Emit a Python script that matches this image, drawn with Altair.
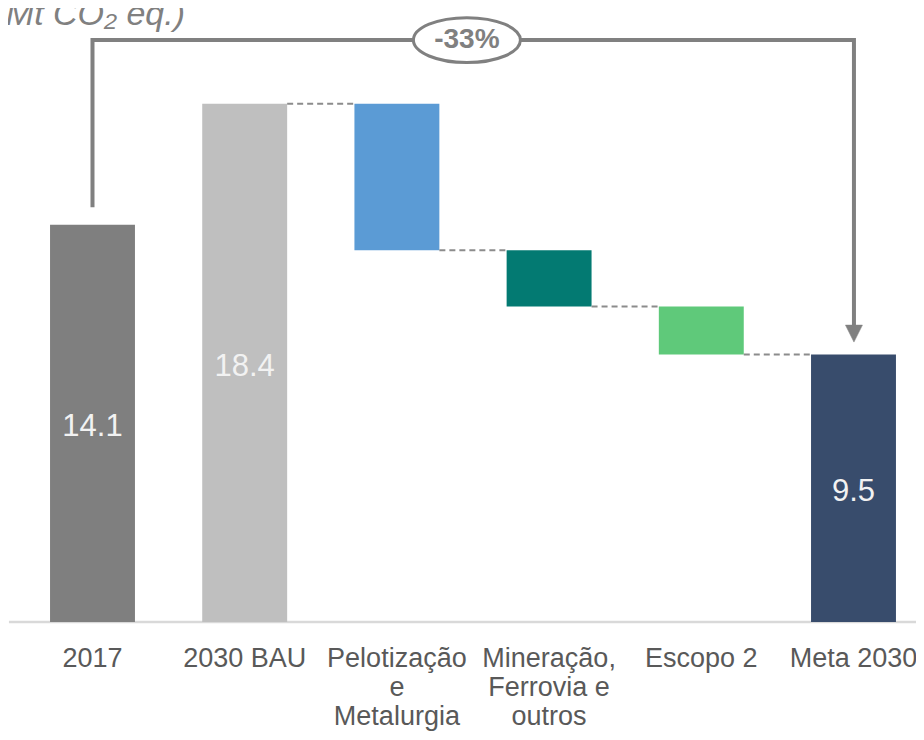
import altair as alt
import pandas as pd

# ---- data ----
categories = ["2017", "2030 BAU", "Pelotização e Metalurgia",
              "Mineração, Ferrovia e outros", "Escopo 2", "Meta 2030"]
axis_labels = ["2017", "2030 BAU", "Pelotização\ne\nMetalurgia",
               "Mineração,\nFerrovia e\noutros", "Escopo 2", "Meta 2030"]
bar_start = [0.0, 0.0, 13.2, 11.2, 9.5, 0.0]
bar_end = [14.1, 18.4, 18.4, 13.2, 11.2, 9.5]
bar_colors = ["#7F7F7F", "#BFBFBF", "#5B9BD5", "#037A72", "#5FC97A", "#384C6C"]
value_labels = ["14.1", "18.4", "", "", "", "9.5"]
is_step = [False, False, True, True, True, False]
change_label = "-33%"
unit_label = "(Mt CO₂ eq.)"

FONT = "Liberation Sans"
GRAY = "#808080"
HALF = 0.279  # half bar width in category units

PLOT_W = 900
STEP_PX = 152.2
x_lo = -0.5026
xscale = alt.Scale(domain=[x_lo, x_lo + PLOT_W / STEP_PX], nice=False, zero=False)
yscale = alt.Scale(domain=[0, 21.8], nice=False, zero=False)

bars = pd.DataFrame({
    "cat": categories,
    "idx": list(range(len(categories))),
    "y0": bar_start,
    "y1": bar_end,
    "color": bar_colors,
    "label": value_labels,
    "axis_label": axis_labels,
})
bars["x0"] = bars["idx"] - HALF
bars["x1"] = bars["idx"] + HALF
bars["mid"] = (bars["y0"] + bars["y1"]) / 2
bars["zero"] = 0.0

# connectors between consecutive bars
conn_rows = []
for i in range(1, len(categories) - 1):
    level = bar_start[i] if is_step[i] else bar_end[i]
    conn_rows.append({"x0": i + HALF, "x1": i + 1 - HALF, "y": level})
conn = pd.DataFrame(conn_rows)

# bracket / arrow annotation from 2017 to Meta 2030
bracket_y = 20.66
arrow_x = 5.003
arrow_base = bar_end[5] + 1.04
arrow_path = pd.DataFrame({
    "x": [0.0, 0.0, arrow_x, arrow_x],
    "y": [bar_end[0] + 0.63, bracket_y, bracket_y, arrow_base],
    "o": [0, 1, 2, 3],
})
arrow_head = pd.DataFrame({"x": [arrow_x], "y": [arrow_base - 0.3]})
badge = pd.DataFrame({"x": [2.46], "y": [bracket_y], "t": [change_label]})
title_df = pd.DataFrame({"x": [0.608], "y": [21.2], "t": [unit_label]})
base_df = pd.DataFrame({"x0": [-0.549], "x1": [x_lo + PLOT_W / STEP_PX], "y": [0.0]})

X = lambda f: alt.X(f, scale=xscale, axis=None)
Y = lambda f: alt.Y(f, scale=yscale, axis=None)

baseline = alt.Chart(base_df).mark_rule(color="#D9D9D9", strokeWidth=2.5).encode(
    x=X("x0:Q"), x2="x1:Q", y=Y("y:Q"))

bar_layer = alt.Chart(bars).mark_rect().encode(
    x=X("x0:Q"), x2="x1:Q", y=Y("y0:Q"), y2="y1:Q",
    color=alt.Color("color:N", scale=None))

conn_layer = alt.Chart(conn).mark_rule(color="#8C8C8C", strokeWidth=2,
                                       strokeDash=[6, 4]).encode(
    x=X("x0:Q"), x2="x1:Q", y=Y("y:Q"))

value_text = alt.Chart(bars).mark_text(font=FONT, fontSize=31, color="#F2F2F2",
                                       baseline="middle", dy=4).encode(
    x=X("idx:Q"), y=Y("mid:Q"), text="label:N")

axis_text = alt.Chart(bars).mark_text(font=FONT, fontSize=27, color="#595959",
                                      baseline="alphabetic", lineBreak="\n",
                                      lineHeight=29, dy=45).encode(
    x=X("idx:Q"), y=Y("zero:Q"), text="axis_label:N")

arrow_line = alt.Chart(arrow_path).mark_line(color=GRAY, strokeWidth=4,
                                             strokeJoin="miter").encode(
    x=X("x:Q"), y=Y("y:Q"), order="o:Q")

arrow_tip = alt.Chart(arrow_head).mark_point(
    shape="M -1 -1 L 1 -1 L 0 1 Z", size=289, filled=True,
    fill=GRAY, stroke=GRAY, strokeWidth=0.5, opacity=1).encode(
    x=X("x:Q"), y=Y("y:Q"))

ellipse = ("M -1 0 C -1 -0.232 -0.552 -0.42 0 -0.42 "
           "C 0.552 -0.42 1 -0.232 1 0 C 1 0.232 0.552 0.42 0 0.42 "
           "C -0.552 0.42 -1 0.232 -1 0 Z")
badge_shape = alt.Chart(badge).mark_point(
    shape=ellipse, size=107 * 107, filled=True, fill="white", fillOpacity=1,
    stroke=GRAY, strokeWidth=3, opacity=1).encode(x=X("x:Q"), y=Y("y:Q"))

badge_text = alt.Chart(badge).mark_text(font=FONT, fontSize=28, fontWeight="bold",
                                        color=GRAY, baseline="middle").encode(
    x=X("x:Q"), y=Y("y:Q"), text="t:N")

title_text = alt.Chart(title_df).mark_text(font=FONT, fontSize=34, fontStyle="italic",
                                           color=GRAY, align="right",
                                           baseline="alphabetic").encode(
    x=X("x:Q"), y=Y("y:Q"), text="t:N")

chart = alt.layer(
    baseline, bar_layer, conn_layer, value_text, axis_text,
    arrow_line, arrow_tip, badge_shape, badge_text, title_text,
).properties(
    width=PLOT_W, height=614,
    autosize=alt.AutoSizeParams(type="none"),
    padding={"left": 8, "top": 0, "right": 0, "bottom": 110},
).configure(background="white").configure_view(stroke=None)

chart.save("out.html", embed_options={"renderer": "svg", "actions": False})
